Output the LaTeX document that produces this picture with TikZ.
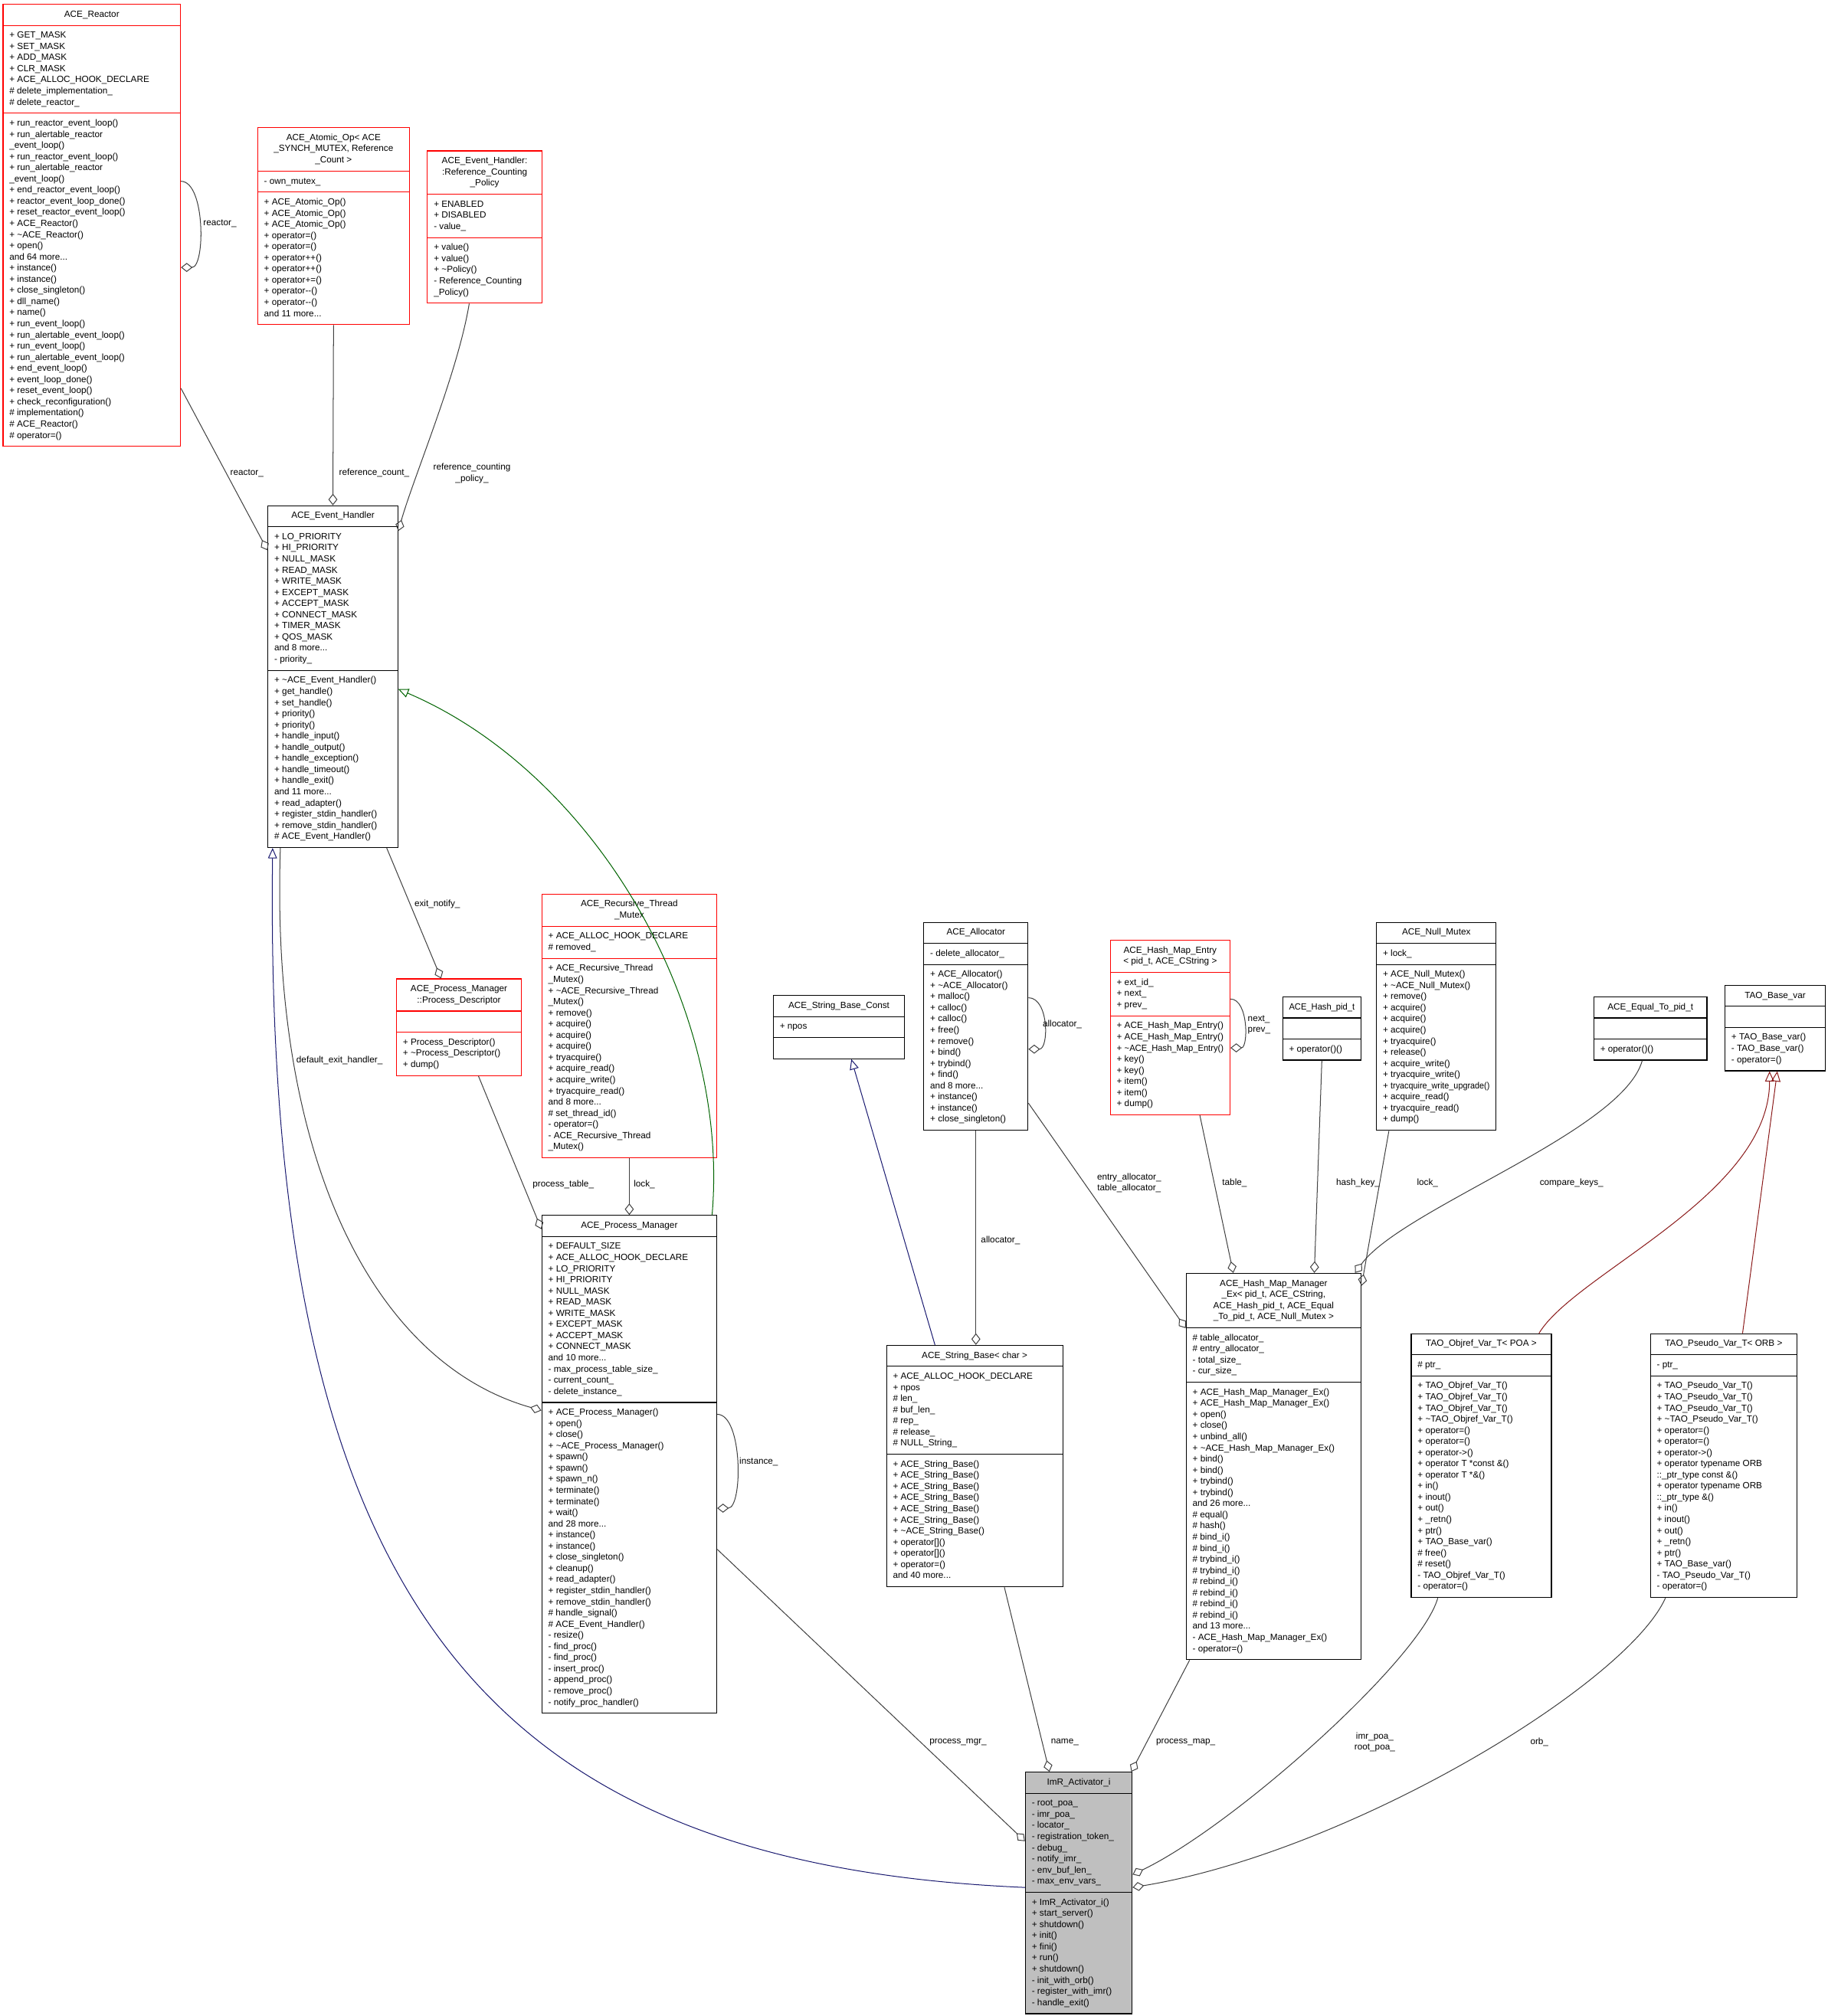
\documentclass[tikz,border=0pt]{standalone}
\usepackage{fontspec}
\setmainfont{Liberation Sans}
\usepackage{graphicx}
\usetikzlibrary{shapes.multipart,arrows.meta}
\definecolor{edgec}{HTML}{404040}
\definecolor{boxred}{HTML}{FF0000}
\definecolor{fillgray}{HTML}{BFBFBF}
\definecolor{inhblue}{HTML}{191970}
\definecolor{inhgreen}{HTML}{006400}
\definecolor{inhred}{HTML}{8B1A1A}
\newcommand\Ttl[1]{\begin{tabular}{@{}c@{}}#1\end{tabular}}
\newcommand\Mbr[1]{\begin{tabular}{@{}l@{}}#1\end{tabular}}
\tikzset{
  cls/.style={rectangle split, rectangle split parts=3, draw=black, line width=0.7pt,
    anchor=north west, inner xsep=5pt, inner ysep=3.5pt,
    font=\fontsize{7}{8.67}\selectfont,
    rectangle split part align={center,left,left}},
  trunc/.style={draw=boxred},
  lbl/.style={font=\fontsize{7}{8.67}\selectfont, inner sep=0pt, align=center, text=black},
  agg/.style={draw=edgec, line width=0.6pt, -{Diamond[open,length=9pt,width=7pt]}},
  inhB/.style={draw=inhblue, line width=0.6pt, -{Triangle[open,length=8pt,width=7pt]}},
  inhG/.style={draw=inhgreen, line width=0.6pt, -{Triangle[open,length=8pt,width=7pt]}},
  inhR/.style={draw=inhred, line width=0.6pt, -{Triangle[open,length=8pt,width=7pt]}},
}
\begin{document}
\catcode`\_=12
\begin{tikzpicture}[x=1pt,y=-1pt]
\fill[white] (0,0) rectangle (1421,1568);
\useasboundingbox (0,0) rectangle (1421,1568);

% ---------------- classes ----------------
\node[cls,trunc,minimum width=138pt] (reactor) at (2,3) {\Ttl{ACE_Reactor}%
\nodepart{two}\Mbr{+ GET_MASK\\+ SET_MASK\\+ ADD_MASK\\+ CLR_MASK\\+ ACE_ALLOC_HOOK_DECLARE\\\# delete_implementation_\\\# delete_reactor_}%
\nodepart{three}\Mbr{+ run_reactor_event_loop()\\+ run_alertable_reactor\\_event_loop()\\+ run_reactor_event_loop()\\+ run_alertable_reactor\\_event_loop()\\+ end_reactor_event_loop()\\+ reactor_event_loop_done()\\+ reset_reactor_event_loop()\\+ ACE_Reactor()\\+ \textasciitilde ACE_Reactor()\\+ open()\\and 64 more...\\+ instance()\\+ instance()\\+ close_singleton()\\+ dll_name()\\+ name()\\+ run_event_loop()\\+ run_alertable_event_loop()\\+ run_event_loop()\\+ run_alertable_event_loop()\\+ end_event_loop()\\+ event_loop_done()\\+ reset_event_loop()\\+ check_reconfiguration()\\\# implementation()\\\# ACE_Reactor()\\\# operator=()}};

\node[cls,trunc,minimum width=118pt] (atomic) at (200,99) {\Ttl{ACE_Atomic_Op< ACE\\_SYNCH_MUTEX, Reference\\_Count >}%
\nodepart{two}\Mbr{- own_mutex_}%
\nodepart{three}\Mbr{+ ACE_Atomic_Op()\\+ ACE_Atomic_Op()\\+ ACE_Atomic_Op()\\+ operator=()\\+ operator=()\\+ operator++()\\+ operator++()\\+ operator+=()\\+ operator-{}-()\\+ operator-{}-()\\and 11 more...}};

\node[cls,trunc,minimum width=89pt] (refpol) at (332,117) {\Ttl{ACE_Event_Handler:\\:Reference_Counting\\_Policy}%
\nodepart{two}\Mbr{+ ENABLED\\+ DISABLED\\- value_}%
\nodepart{three}\Mbr{+ value()\\+ value()\\+ \textasciitilde Policy()\\- Reference_Counting\\_Policy()}};

\node[cls,minimum width=101pt] (eh) at (208,393) {\Ttl{ACE_Event_Handler}%
\nodepart{two}\Mbr{+ LO_PRIORITY\\+ HI_PRIORITY\\+ NULL_MASK\\+ READ_MASK\\+ WRITE_MASK\\+ EXCEPT_MASK\\+ ACCEPT_MASK\\+ CONNECT_MASK\\+ TIMER_MASK\\+ QOS_MASK\\and 8 more...\\- priority_}%
\nodepart{three}\Mbr{+ \textasciitilde ACE_Event_Handler()\\+ get_handle()\\+ set_handle()\\+ priority()\\+ priority()\\+ handle_input()\\+ handle_output()\\+ handle_exception()\\+ handle_timeout()\\+ handle_exit()\\and 11 more...\\+ read_adapter()\\+ register_stdin_handler()\\+ remove_stdin_handler()\\\# ACE_Event_Handler()}};

\node[cls,trunc,minimum width=97pt] (pdesc) at (308,761) {\Ttl{ACE_Process_Manager\\::Process_Descriptor}%
\nodepart{two}\Mbr{\mbox{}}%
\nodepart{three}\Mbr{+ Process_Descriptor()\\+ \textasciitilde Process_Descriptor()\\+ dump()}};

\node[cls,trunc,minimum width=136pt] (rmutex) at (421,695) {\Ttl{ACE_Recursive_Thread\\_Mutex}%
\nodepart{two}\Mbr{+ ACE_ALLOC_HOOK_DECLARE\\\# removed_}%
\nodepart{three}\Mbr{+ ACE_Recursive_Thread\\_Mutex()\\+ \textasciitilde ACE_Recursive_Thread\\_Mutex()\\+ remove()\\+ acquire()\\+ acquire()\\+ acquire()\\+ tryacquire()\\+ acquire_read()\\+ acquire_write()\\+ tryacquire_read()\\and 8 more...\\\# set_thread_id()\\- operator=()\\- ACE_Recursive_Thread\\_Mutex()}};

\node[cls,minimum width=102pt] (sbconst) at (601,774) {\Ttl{ACE_String_Base_Const}%
\nodepart{two}\Mbr{+ npos}%
\nodepart{three}\Mbr{\mbox{}}};

\node[cls,minimum width=81pt] (alloc) at (718,717) {\Ttl{ACE_Allocator}%
\nodepart{two}\Mbr{- delete_allocator_}%
\nodepart{three}\Mbr{+ ACE_Allocator()\\+ \textasciitilde ACE_Allocator()\\+ malloc()\\+ calloc()\\+ calloc()\\+ free()\\+ remove()\\+ bind()\\+ trybind()\\+ find()\\and 8 more...\\+ instance()\\+ instance()\\+ close_singleton()}};

\node[cls,trunc,minimum width=93pt] (hentry) at (863,731) {\Ttl{ACE_Hash_Map_Entry\\< pid_t, ACE_CString >}%
\nodepart{two}\Mbr{+ ext_id_\\+ next_\\+ prev_}%
\nodepart{three}\Mbr{+ ACE_Hash_Map_Entry()\\+ ACE_Hash_Map_Entry()\\+ \scalebox{0.95}[1]{\textasciitilde ACE_Hash_Map_Entry()}\\+ key()\\+ key()\\+ item()\\+ item()\\+ dump()}};

\node[cls,minimum width=61pt] (hpid) at (997,775) {\Ttl{\scalebox{0.95}[1]{ACE_Hash_pid_t}}%
\nodepart{two}\Mbr{\mbox{}}%
\nodepart{three}\Mbr{+ operator()()}};

\node[cls,minimum width=93pt] (nmutex) at (1070,717) {\Ttl{ACE_Null_Mutex}%
\nodepart{two}\Mbr{+ lock_}%
\nodepart{three}\Mbr{+ ACE_Null_Mutex()\\+ \textasciitilde ACE_Null_Mutex()\\+ remove()\\+ acquire()\\+ acquire()\\+ acquire()\\+ tryacquire()\\+ release()\\+ acquire_write()\\+ tryacquire_write()\\+ \scalebox{0.92}[1]{tryacquire_write_upgrade()}\\+ acquire_read()\\+ tryacquire_read()\\+ dump()}};

\node[cls,minimum width=88pt] (eqto) at (1239,775) {\Ttl{ACE_Equal_To_pid_t}%
\nodepart{two}\Mbr{\mbox{}}%
\nodepart{three}\Mbr{+ operator()()}};

\node[cls,minimum width=78pt] (basevar) at (1341,766) {\Ttl{TAO_Base_var}%
\nodepart{two}\Mbr{\mbox{}}%
\nodepart{three}\Mbr{+ TAO_Base_var()\\- TAO_Base_var()\\- operator=()}};

\node[cls,minimum width=136pt] (pm) at (421,945) {\Ttl{ACE_Process_Manager}%
\nodepart{two}\Mbr{+ DEFAULT_SIZE\\+ ACE_ALLOC_HOOK_DECLARE\\+ LO_PRIORITY\\+ HI_PRIORITY\\+ NULL_MASK\\+ READ_MASK\\+ WRITE_MASK\\+ EXCEPT_MASK\\+ ACCEPT_MASK\\+ CONNECT_MASK\\and 10 more...\\- max_process_table_size_\\- current_count_\\- delete_instance_}%
\nodepart{three}\Mbr{+ ACE_Process_Manager()\\+ open()\\+ close()\\+ \textasciitilde ACE_Process_Manager()\\+ spawn()\\+ spawn()\\+ spawn_n()\\+ terminate()\\+ terminate()\\+ wait()\\and 28 more...\\+ instance()\\+ instance()\\+ close_singleton()\\+ cleanup()\\+ read_adapter()\\+ register_stdin_handler()\\+ remove_stdin_handler()\\\# handle_signal()\\\# ACE_Event_Handler()\\- resize()\\- find_proc()\\- find_proc()\\- insert_proc()\\- append_proc()\\- remove_proc()\\- notify_proc_handler()}};

\node[cls,minimum width=137pt] (sbase) at (689,1046) {\Ttl{ACE_String_Base< char >}%
\nodepart{two}\Mbr{+ ACE_ALLOC_HOOK_DECLARE\\+ npos\\\# len_\\\# buf_len_\\\# rep_\\\# release_\\\# NULL_String_}%
\nodepart{three}\Mbr{+ ACE_String_Base()\\+ ACE_String_Base()\\+ ACE_String_Base()\\+ ACE_String_Base()\\+ ACE_String_Base()\\+ ACE_String_Base()\\+ \textasciitilde ACE_String_Base()\\+ operator[]()\\+ operator[]()\\+ operator=()\\and 40 more...}};

\node[cls,minimum width=136pt] (hmm) at (922,990) {\Ttl{ACE_Hash_Map_Manager\\_Ex< pid_t, ACE_CString,\\ACE_Hash_pid_t, ACE_Equal\\_To_pid_t, ACE_Null_Mutex >}%
\nodepart{two}\Mbr{\# table_allocator_\\\# entry_allocator_\\- total_size_\\- cur_size_}%
\nodepart{three}\Mbr{+ ACE_Hash_Map_Manager_Ex()\\+ ACE_Hash_Map_Manager_Ex()\\+ open()\\+ close()\\+ unbind_all()\\+ \textasciitilde ACE_Hash_Map_Manager_Ex()\\+ bind()\\+ bind()\\+ trybind()\\+ trybind()\\and 26 more...\\\# equal()\\\# hash()\\\# bind_i()\\\# bind_i()\\\# trybind_i()\\\# trybind_i()\\\# rebind_i()\\\# rebind_i()\\\# rebind_i()\\\# rebind_i()\\and 13 more...\\- ACE_Hash_Map_Manager_Ex()\\- operator=()}};

\node[cls,minimum width=109pt] (objref) at (1097,1037) {\Ttl{TAO_Objref_Var_T< POA >}%
\nodepart{two}\Mbr{\# ptr_}%
\nodepart{three}\Mbr{+ TAO_Objref_Var_T()\\+ TAO_Objref_Var_T()\\+ TAO_Objref_Var_T()\\+ \textasciitilde TAO_Objref_Var_T()\\+ operator=()\\+ operator=()\\+ operator->()\\+ operator T *const \&()\\+ operator T *\&()\\+ in()\\+ inout()\\+ out()\\+ _retn()\\+ ptr()\\+ TAO_Base_var()\\\# free()\\\# reset()\\- TAO_Objref_Var_T()\\- operator=()}};

\node[cls,minimum width=114pt] (pseudo) at (1283,1037) {\Ttl{TAO_Pseudo_Var_T< ORB >}%
\nodepart{two}\Mbr{- ptr_}%
\nodepart{three}\Mbr{+ TAO_Pseudo_Var_T()\\+ TAO_Pseudo_Var_T()\\+ TAO_Pseudo_Var_T()\\+ \textasciitilde TAO_Pseudo_Var_T()\\+ operator=()\\+ operator=()\\+ operator->()\\+ operator typename ORB\\::_ptr_type const \&()\\+ operator typename ORB\\::_ptr_type \&()\\+ in()\\+ inout()\\+ out()\\+ _retn()\\+ ptr()\\+ TAO_Base_var()\\- TAO_Pseudo_Var_T()\\- operator=()}};

\node[cls,fill=fillgray,minimum width=83pt] (imr) at (797,1378) {\Ttl{ImR_Activator_i}%
\nodepart{two}\Mbr{- root_poa_\\- imr_poa_\\- locator_\\- registration_token_\\- debug_\\- notify_imr_\\- env_buf_len_\\- max_env_vars_}%
\nodepart{three}\Mbr{+ ImR_Activator_i()\\+ start_server()\\+ shutdown()\\+ init()\\+ fini()\\+ run()\\+ shutdown()\\- init_with_orb()\\- register_with_imr()\\- handle_exit()}};

% ---------------- connectors ----------------
\draw[agg] ([yshift=-138pt]reactor.north east) .. controls +(19,0) and +(19,0) .. ([yshift=-205pt]reactor.north east)
  node[lbl] (l1) at (171,174) {reactor_};
\draw[agg] ([yshift=-299pt]reactor.north east) -- ([yshift=-35pt]eh.north west)
  node[lbl] (l2) at (192,368) {reactor_};
\draw[agg] (atomic.south) -- (eh.north)
  node[lbl] (l3) at (291,368) {reference_count_};
\draw[agg] ([xshift=-12pt]refpol.south) .. controls (356,290) and (322,370) .. ([yshift=-20pt]eh.north east)
  node[lbl] (l4) at (367,368) {reference_counting\\_policy_};
\draw[agg] ([xshift=-9pt]eh.south east) -- ([xshift=35pt]pdesc.north west)
  node[lbl] (l5) at (340,703) {exit_notify_};
\draw[agg] ([xshift=64pt]pdesc.south west) -- ([yshift=-11pt]pm.north west)
  node[lbl] (l6) at (438,921) {process_table_};
\draw[agg] (rmutex.south) -- (pm.north)
  node[lbl] (l7) at (501,921) {lock_};
\draw[inhG] ([xshift=-4pt]pm.north east) .. controls (568,780) and (460,600) .. ([yshift=-143pt]eh.north east);
\draw[agg] ([xshift=10pt]eh.south west) .. controls (210,900) and (290,1060) .. ([yshift=-152pt]pm.north west)
  node[lbl] (l9) at (264,825) {default_exit_handler_};
\draw[inhB] ([yshift=-90pt]imr.north west) .. controls (380,1450) and (205,1250) .. ([xshift=4pt]eh.south west);
\draw[agg] ([yshift=-155pt]pm.north east) .. controls +(20,0) and +(20,0) .. ([yshift=-228pt]pm.north east)
  node[lbl] (l11) at (590,1137) {instance_};
\draw[inhB] ([xshift=38pt]sbase.north west) -- ([xshift=61pt]sbconst.south west);
\draw[agg] ([yshift=-59pt]alloc.north east) .. controls +(16,0) and +(16,0) .. ([yshift=-99pt]alloc.north east)
  node[lbl] (l13) at (826,797) {allocator_};
\draw[agg] (alloc.south) -- (alloc.south |- sbase.north)
  node[lbl] (l14) at (778,965) {allocator_};
\draw[agg] ([yshift=-141pt]alloc.north east) -- ([yshift=-43pt]hmm.north west)
  node[lbl] (l15) at (878,920) {entry_allocator_\\table_allocator_};
\draw[agg] ([yshift=-46pt]hentry.north east) .. controls +(14,0) and +(14,0) .. ([yshift=-84pt]hentry.north east)
  node[lbl,anchor=west,align=left] (l16) at (970,797) {next_\\prev_};
\draw[agg] ([xshift=70pt]hentry.south west) -- ([xshift=37pt]hmm.north west)
  node[lbl] (l17) at (960,920) {table_};
\draw[agg] (hpid.south) -- ([xshift=100pt]hmm.north west)
  node[lbl] (l18) at (1056,920) {hash_key_};
\draw[agg] ([xshift=10pt]nmutex.south west) -- ([yshift=-10pt]hmm.north east)
  node[lbl] (l19) at (1110,920) {lock_};
\draw[agg] ([xshift=38pt]eqto.south west) .. controls (1262,880) and (1090,940) .. ([xshift=-5pt]hmm.north east)
  node[lbl] (l20) at (1222,920) {compare_keys_};
\draw[inhR] ([xshift=-10pt]objref.north east) .. controls (1225,990) and (1376,930) .. ([xshift=35pt]basevar.south west);
\draw[inhR] ([xshift=72pt]pseudo.north west) -- ([xshift=41pt]basevar.south west);
\draw[agg] ([yshift=-260pt]pm.north east) -- ([yshift=-54pt]imr.north west)
  node[lbl] (l23) at (745,1355) {process_mgr_};
\draw[agg] ([xshift=92pt]sbase.south west) -- ([xshift=19pt]imr.north west)
  node[lbl] (l24) at (828,1355) {name_};
\draw[agg] ([xshift=3pt]hmm.south west) -- ([xshift=-1pt]imr.north east)
  node[lbl] (l25) at (922,1355) {process_map_};
\draw[agg] ([xshift=21pt]objref.south west) .. controls (1105,1290) and (960,1420) .. ([yshift=-80pt]imr.north east)
  node[lbl] (l26) at (1069,1355) {imr_poa_\\root_poa_};
\draw[agg] ([xshift=12pt]pseudo.south west) .. controls (1265,1310) and (1050,1440) .. ([yshift=-90pt]imr.north east)
  node[lbl] (l27) at (1197,1355) {orb_};
\end{tikzpicture}
\end{document}
